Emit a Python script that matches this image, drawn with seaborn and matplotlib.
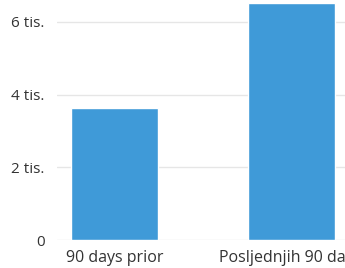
import matplotlib
matplotlib.use("Agg")
import matplotlib.pyplot as plt
import seaborn as sns
import pandas as pd
from matplotlib.ticker import FuncFormatter

# data
periods = ["90 days prior", "Posljednjih 90 dana"]
counts = [3630, 6520]
y_ticks = [0, 2000, 4000, 6000]

df = pd.DataFrame({"period": periods, "count": counts})

sns.set_style("white")
plt.rcParams['font.family'] = ['Open Sans', 'DejaVu Sans']

fig = plt.figure(figsize=(3.45, 2.68), dpi=100)
ax = fig.add_axes([57 / 345, 28 / 268, 1 - 57 / 345, 240 / 268])

sns.barplot(data=df, x="period", y="count", color="#3f9ad8", saturation=1,
            width=0.49, ax=ax)

ax.set_xlim(-0.325, 1.30)
ax.set_ylim(0, 6600)
ax.set_yticks(y_ticks)
ax.yaxis.set_major_formatter(FuncFormatter(lambda v, p: "0" if v == 0 else f"{int(v / 1000)} tis."))
ax.grid(axis="y", color="#e6e6e6", linewidth=1)
ax.set_axisbelow(True)
for s in ax.spines.values():
    s.set_visible(False)
ax.tick_params(axis="both", length=0, labelcolor="#333333")
ax.tick_params(axis="y", pad=9, labelsize=11)
ax.tick_params(axis="x", pad=7, labelsize=11.5)
ax.set_xlabel("")
ax.set_ylabel("")

fig.savefig("out.png", dpi=100)
